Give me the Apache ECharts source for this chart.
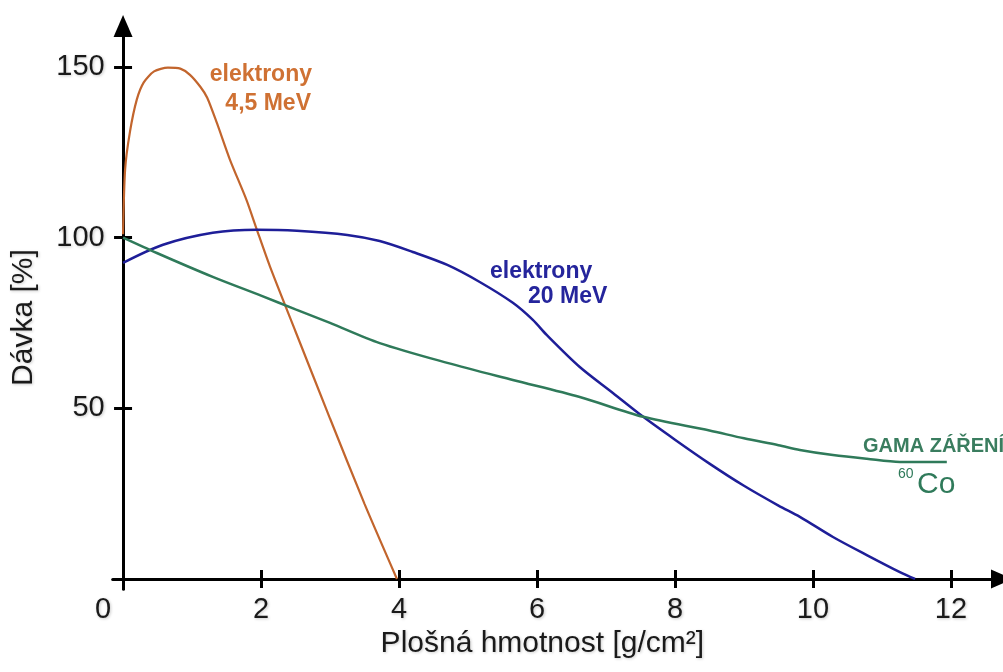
<!DOCTYPE html>
<html>
<head>
<meta charset="utf-8">
<script src="https://cdn.jsdelivr.net/npm/echarts@6/dist/echarts.min.js"></script>
<style>
html,body{margin:0;padding:0;background:#fff;}
#chart{width:1003px;height:672px;}
</style>
</head>
<body>
<div id="chart"></div>
<script>
// ---- data ----
const xTickValues = [2, 4, 6, 8, 10, 12];
const xLabelValues = [0, 2, 4, 6, 8, 10, 12];
const yTickValues = [50, 100, 150];
const yLabelValues = [50, 100, 150];

const electrons45 = [
  [0, 101], [0.03, 120], [0.1, 131], [0.2, 140.5], [0.3, 145.5], [0.45, 148.7],
  [0.65, 149.8], [0.83, 149.5], [0.97, 147.7], [1.12, 144.2], [1.22, 141],
  [1.36, 133.6], [1.55, 122.8], [1.79, 111], [1.94, 102.3], [2.13, 91.5],
  [2.5, 72.5], [3.0, 47], [3.5, 22], [3.97, 0]
];
const electrons20 = [
  [0, 92.6], [0.58, 97.9], [1.3, 101.4], [1.94, 102.3], [2.52, 102], [3.25, 100.8],
  [3.72, 99], [4.2, 95.8], [4.7, 92], [5.17, 87], [5.65, 80.9], [5.94, 75.9],
  [6.14, 71.5], [6.62, 62.1], [7.1, 54.5], [7.54, 47.5], [8.0, 40.8], [8.5, 33.8],
  [9.0, 27.3], [9.5, 21.5], [9.81, 18.2], [10.29, 12.3], [10.78, 7], [11.26, 2],
  [11.48, 0]
];
const gammaCo60 = [
  [0, 100], [0.49, 95.5], [1.3, 88.5], [2.0, 83], [2.5, 79], [3.0, 75], [3.72, 69.1],
  [4.7, 63.3], [5.65, 58.3], [6.62, 53.3], [7.54, 47.5], [8.5, 43.5], [9.0, 41.2],
  [9.5, 39.2], [9.81, 37.8], [10.29, 36.3], [10.78, 35.2], [11.26, 34.3], [11.94, 34.3]
];

const xAxisName = 'Plošná hmotnost [g/cm²]';
const yAxisName = 'Dávka [%]';

// ---- chart ----
const FONT = '"Liberation Sans", Arial, "DejaVu Sans", sans-serif';
const chart = echarts.init(document.getElementById('chart'), null, {renderer: 'canvas'});

const labelStyle = {
  fontFamily: FONT, fontSize: 29, color: '#1a1a1a',
  textShadowColor: 'rgba(0,0,0,0.22)', textShadowBlur: 3, textShadowOffsetX: 1, textShadowOffsetY: 1
};
const axisLineStyle = {color: '#000', width: 3};

const xMin = -0.15, xMax = 12.74, yMin = -3, yMax = 162;

const option = {
  backgroundColor: '#ffffff',
  animation: false,
  grid: {left: 112.7, right: 1, top: 26, bottom: 82.8, containLabel: false, outerBoundsMode: 'none'},
  xAxis: [
    {
      type: 'value', min: xMin, max: xMax, position: 'bottom',
      axisLine: {show: true, onZero: true, onZeroAxisIndex: 0, lineStyle: axisLineStyle,
                 symbol: ['none', 'triangle'], symbolSize: [19, 22]},
      axisTick: {show: true, inside: false, length: 9, customValues: xTickValues,
                 lineStyle: {color: '#000', width: 3}},
      axisLabel: Object.assign({
        show: true, margin: 6, customValues: xLabelValues,
        formatter: function (v) { return v === 0 ? '{z|0}' : String(v); },
        rich: {z: {padding: [0, 40, 0, 0], fontFamily: FONT, fontSize: 29, color: '#1a1a1a'}}
      }, labelStyle),
      splitLine: {show: false},
      name: xAxisName, nameLocation: 'middle', nameGap: 26,
      nameTextStyle: {fontFamily: FONT, fontSize: 30, color: '#1a1a1a', padding: [0, 30, 0, 0],
                      textShadowColor: 'rgba(0,0,0,0.2)', textShadowBlur: 3, textShadowOffsetX: 1, textShadowOffsetY: 1}
    },
    {
      type: 'value', min: xMin, max: xMax, position: 'bottom', offset: -10.2,
      axisLine: {show: false, onZero: false},
      axisTick: {show: true, inside: true, length: 9, customValues: xTickValues,
                 lineStyle: {color: '#000', width: 3}},
      axisLabel: {show: false},
      splitLine: {show: false}
    }
  ],
  yAxis: [
    {
      type: 'value', min: yMin, max: yMax, position: 'left',
      axisLine: {show: true, onZero: true, onZeroAxisIndex: 0, lineStyle: axisLineStyle,
                 symbol: ['none', 'triangle'], symbolSize: [19, 22]},
      axisTick: {show: true, inside: false, length: 9, customValues: yTickValues,
                 lineStyle: {color: '#000', width: 3}},
      axisLabel: Object.assign({show: true, margin: 8, customValues: yLabelValues}, labelStyle),
      splitLine: {show: false},
      name: yAxisName, nameLocation: 'middle', nameGap: 74, nameRotate: 90,
      nameTextStyle: {fontFamily: FONT, fontSize: 30, color: '#1a1a1a', padding: [0, 20, 0, 0],
                      textShadowColor: 'rgba(0,0,0,0.2)', textShadowBlur: 3, textShadowOffsetX: 1, textShadowOffsetY: 1}
    },
    {
      type: 'value', min: yMin, max: yMax, position: 'left', offset: -10.35,
      axisLine: {show: false, onZero: false},
      axisTick: {show: true, inside: true, length: 9, customValues: yTickValues,
                 lineStyle: {color: '#000', width: 3}},
      axisLabel: {show: false},
      splitLine: {show: false}
    }
  ],
  series: [
    {
      name: 'elektrony 4,5 MeV', type: 'line', data: electrons45, xAxisIndex: 0, yAxisIndex: 0,
      smooth: 0.25, showSymbol: false, symbol: 'none',
      lineStyle: {color: '#c2652d', width: 2.2}, z: 3
    },
    {
      name: 'elektrony 20 MeV', type: 'line', data: electrons20, xAxisIndex: 0, yAxisIndex: 0,
      smooth: 0.3, showSymbol: false, symbol: 'none',
      lineStyle: {color: '#1e1e98', width: 2.5}, z: 3
    },
    {
      name: 'GAMA ZÁŘENÍ 60Co', type: 'line', data: gammaCo60, xAxisIndex: 0, yAxisIndex: 0,
      smooth: 0.3, showSymbol: false, symbol: 'none',
      lineStyle: {color: '#2f7a5a', width: 2.5}, z: 3
    }
  ],
  graphic: [
    {type: 'text', x: 312, y: 75, z: 10, style: {text: 'elektrony', font: 'bold 23px ' + FONT, fill: '#cf7133',
      align: 'right', verticalAlign: 'middle', shadowColor: 'rgba(235,150,90,0.6)', shadowBlur: 5}},
    {type: 'text', x: 311, y: 104, z: 10, style: {text: '4,5 MeV', font: 'bold 23px ' + FONT, fill: '#cf7133',
      align: 'right', verticalAlign: 'middle', shadowColor: 'rgba(235,150,90,0.6)', shadowBlur: 5}},
    {type: 'text', x: 490, y: 272, z: 10, style: {text: 'elektrony', font: 'bold 23px ' + FONT, fill: '#25259c',
      align: 'left', verticalAlign: 'middle', shadowColor: 'rgba(110,110,220,0.5)', shadowBlur: 5}},
    {type: 'text', x: 528, y: 297, z: 10, style: {text: '20 MeV', font: 'bold 23px ' + FONT, fill: '#25259c',
      align: 'left', verticalAlign: 'middle', shadowColor: 'rgba(110,110,220,0.5)', shadowBlur: 5}},
    {type: 'text', x: 863, y: 446, z: 10, style: {text: 'GAMA ZÁŘENÍ', font: 'bold 20px ' + FONT, fill: '#3a7d5f',
      align: 'left', verticalAlign: 'middle', shadowColor: 'rgba(90,160,120,0.5)', shadowBlur: 4}},
    {type: 'text', x: 898, y: 474, z: 10, style: {text: '60', font: '14px ' + FONT, fill: '#2f7a5a',
      align: 'left', verticalAlign: 'middle'}},
    {type: 'text', x: 917, y: 485, z: 10, style: {text: 'Co', font: '30px ' + FONT, fill: '#2f7a5a',
      align: 'left', verticalAlign: 'middle', shadowColor: 'rgba(90,160,120,0.5)', shadowBlur: 4}}
  ]
};
chart.setOption(option);
</script>
</body>
</html>
